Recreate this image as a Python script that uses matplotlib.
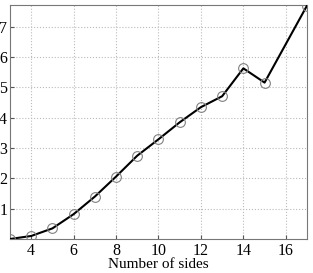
import matplotlib
matplotlib.use("Agg")
import matplotlib.pyplot as plt

sides = [3, 4, 5, 6, 7, 8, 9, 10, 11, 12, 13, 14, 15, 17]
values = [0.0, 0.1, 0.35, 0.82, 1.4, 2.06, 2.75, 3.29, 3.85, 4.35, 4.71, 5.63, 5.16, 7.70]
xticks = [4, 6, 8, 10, 12, 14, 16]
yticks = [1, 2, 3, 4, 5, 6, 7]

plt.rcParams['font.family'] = ['Liberation Serif', 'DejaVu Serif']
fig = plt.figure(figsize=(3.13, 2.73), dpi=100)
ax = fig.add_axes([10/313, 1 - 239/273, 297/313, 234/273])
ax.plot(sides, values, color='black', lw=1.5, zorder=3)
ax.plot(sides, values, ls='none', marker='o', ms=7, mfc='none', mec='#808080', mew=0.8, zorder=4)
ax.set_xlim(3, 17)
ax.set_ylim(0, 7.72)
ax.set_xticks(xticks)
ax.set_yticks(yticks)
ax.tick_params(direction='in', length=3, color='#555555', labelsize=11.5, pad=2)
ax.tick_params(axis='x', pad=3)
ax.grid(True, ls=':', color='#bbbbbb', lw=0.8)
for s in ax.spines.values():
    s.set_color('#777777')
    s.set_linewidth(0.8)
ax.set_xlabel('Number of sides', fontsize=11, labelpad=-1)
fig.savefig('out.png', dpi=100)
